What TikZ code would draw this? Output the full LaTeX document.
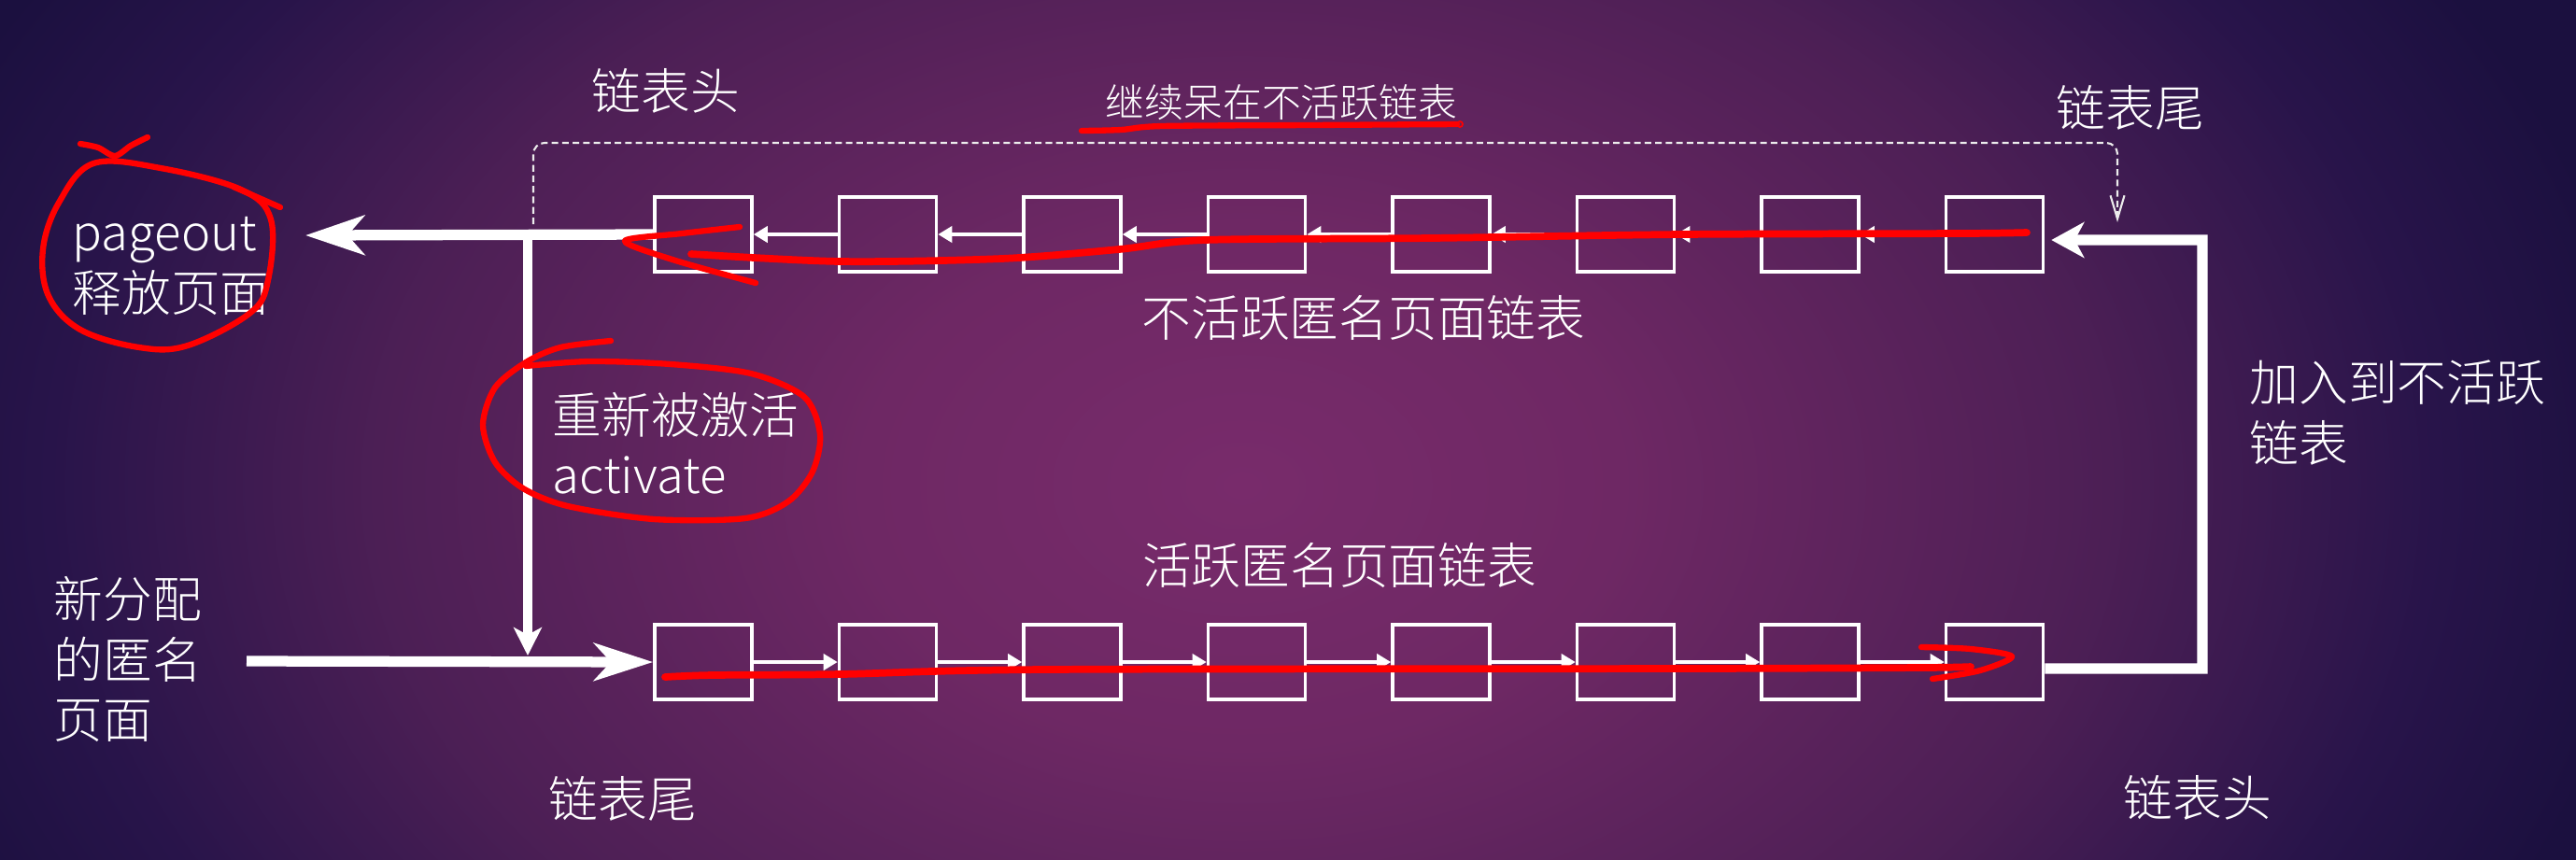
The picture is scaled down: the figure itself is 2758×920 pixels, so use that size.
\documentclass[tikz,border=0pt]{standalone}
\usepackage{fontspec}
\setmainfont{Noto Sans CJK SC Light}
\usetikzlibrary{arrows.meta}
\definecolor{bgc}{HTML}{782B6B}
\definecolor{bgca}{HTML}{6E2864}
\definecolor{bgm}{HTML}{4C1F55}
\definecolor{bge}{HTML}{28144A}
\definecolor{bgo}{HTML}{1B103F}
\pgfdeclareradialshading{bgshade}{\pgfpoint{0bp}{0bp}}{color(0bp)=(bgc); color(7bp)=(bgca); color(16bp)=(bgm); color(22bp)=(bge); color(26bp)=(bgo); color(50bp)=(bgo)}
\tikzset{
  pg/.style={draw=white, line width=1pt, minimum width=1.04cm, minimum height=0.8cm, inner sep=0pt},
  lnk/.style={white, line width=1.4pt, -{Triangle[length=0.15cm,width=0.17cm]}},
  big/.style={white, line width=3.2pt},
  lbl/.style={text=white, font=\fontsize{15pt}{18.3pt}\selectfont, inner sep=0pt},
  note/.style={draw=red, line width=1.8pt, line cap=round, line join=round},
  thicknote/.style={note, line width=2.2pt},
}
\begin{document}
\begin{tikzpicture}[x=0.01cm, y=-0.01cm]
\useasboundingbox (0,0) rectangle (2758,920);
\begin{scope}
  \clip (0,0) rectangle (2758,920);
  \fill[bgo] (0,0) rectangle (2758,920);
  \shade[shading=bgshade] (-120,-480) rectangle (2780,1520);
\end{scope}

% boxes
\foreach \i in {1,...,8} {
  \node[pg] (t\i) at ({753+197.5*(\i-1)},251) {};
  \node[pg] (b\i) at ({753+197.5*(\i-1)},709) {};
}
% small links
\foreach \i/\j in {1/2,2/3,3/4,4/5,5/6,6/7,7/8} {
  \draw[lnk] (t\j.west) -- (t\i.east);
  \draw[lnk] (b\i.east) -- (b\j.west);
}

% coordinates
\coordinate (outL) at (327,252);
\coordinate (vtop) at (565,247);
\coordinate (vbot) at (565,702);
\coordinate (newL) at (264,708);
\coordinate (r1) at (2358,716);
\coordinate (r2) at (2358,257);
\coordinate (d1) at (571,240);
\coordinate (d2) at (2267,238);
\coordinate (dtop) at (0,153);

% big arrows
\draw[big, -{Stealth[length=0.63cm,width=0.42cm,inset=0.18cm]}] (t1.west) -- (outL);
\draw[white, line width=2.9pt, -{Stealth[length=0.3cm,width=0.3cm,inset=0.08cm]}] (vtop) -- (vbot);
\draw[big, -{Stealth[length=0.63cm,width=0.40cm,inset=0.18cm]}] (newL) -- (b1.west);
\draw[big, line join=miter, -{Stealth[length=0.35cm,width=0.38cm,inset=0.1cm]}] ([yshift=-0.07cm]b8.east) -- (r1) -- (r2) -- ([xshift=0.07cm,yshift=-0.06cm]t8.east);

% dashed connector
\draw[white!85!gray, line width=0.6pt, dash pattern=on 2pt off 1.2pt, rounded corners=0.12cm, -{Straight Barb[length=0.25cm,width=0.15cm]}] (d1) -- (d1 |- dtop) -- (d2 |- dtop) -- (d2);

% labels
\node[lbl] (lh1) at (713,97) {链表头};
\node[lbl, font=\fontsize{11.9pt}{14pt}\selectfont] (stay) at (1372,110) {继续呆在不活跃链表};
\node[lbl] (lt1) at (2281,115) {链表尾};
\node[lbl, anchor=west, align=left] (po) at (77,285) {pageout\\释放页面};
\node[lbl] (inl) at (1460,340) {不活跃匿名页面链表};
\node[lbl, anchor=west, align=left] (act) at (591,475) {重新被激活\\activate};
\node[lbl, anchor=west, align=left] (add) at (2408,442) {加入到不活跃\\链表};
\node[lbl] (al) at (1434,605) {活跃匿名页面链表};
\node[lbl, anchor=west, align=left] (new) at (57,706) {新分配\\的匿名\\页面};
\node[lbl] (lt2) at (667,855) {链表尾};
\node[lbl] (lh2) at (2353,854) {链表头};

% red annotations
\draw[note] plot[smooth cycle, tension=0.6] coordinates {(100,175) (172,180) (258,203) (290,235) (287,300) (268,335) (201,370) (149,372) (86,353) (52,317) (46,267) (63,217)};
\draw[note] (250,200) -- (300,222);
\draw[note] plot[smooth] coordinates {(86,154) (105,158) (123,167) (140,156) (158,147)};
\draw[note] plot[smooth] coordinates {(654,365) (600,372) (563,388) (530,415) (517,455) (530,495) (560,523) (608,542) (700,556) (798,555) (844,537) (870,505) (878,465) (861,425) (804,400) (718,390) (631,387) (563,392)};
\draw[note] plot[smooth] coordinates {(1158,140) (1200,139) (1244,135) (1400,134) (1560,133)};
\draw[red, line width=0.5pt] (1563,133) circle (0.03cm);
\draw[thicknote] plot[smooth] coordinates {(2170,249) (2100,250) (1800,251) (1531,255) (1290,257) (1198,267) (1072,277) (900,280) (740,272)};
\draw[note] plot[smooth] coordinates {(792,243) (730,250) (669,258) (720,278) (809,303)};
\draw[thicknote] plot[smooth] coordinates {(712,725) (763,723) (900,722) (1118,717) (1800,716) (2057,715) (2110,714)};
\draw[note] plot[smooth] coordinates {(2057,693) (2110,695) (2154,703) (2120,718) (2069,727)};
\end{tikzpicture}
\end{document}
